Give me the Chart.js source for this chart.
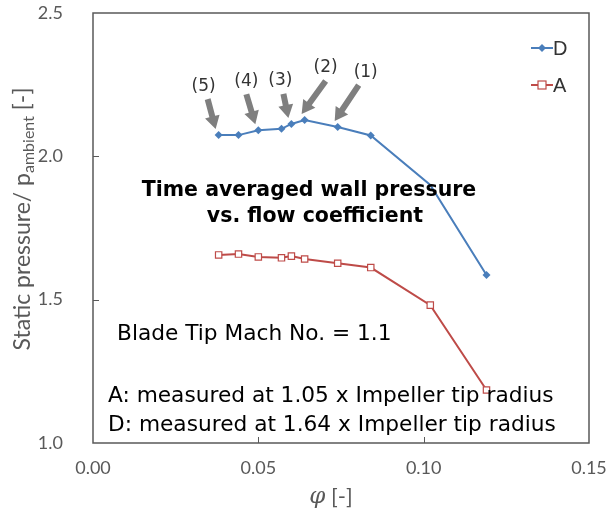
<!DOCTYPE html>
<html>
<head>
<meta charset="utf-8">
<script src="https://cdn.jsdelivr.net/npm/chart.js@4"></script>
<style>
  html,body{margin:0;padding:0;background:#fff;}
  #wrap{width:616px;height:511px;position:relative;}
</style>
</head>
<body>
<div id="wrap"><canvas id="c" width="616" height="511"></canvas></div>
<script>
// flow coefficient phi and static pressure ratio
const phi = [0.038, 0.044, 0.050, 0.057, 0.060, 0.064, 0.074, 0.084, 0.102, 0.119];
const pD  = [2.074, 2.074, 2.091, 2.096, 2.113, 2.127, 2.102, 2.073, 1.900, 1.586];
const pA  = [1.656, 1.659, 1.649, 1.646, 1.652, 1.642, 1.627, 1.612, 1.481, 1.185];
const xTicks = [0, 0.05, 0.10, 0.15];
const yTicks = [1.0, 1.5, 2.0, 2.5];

const BLUE = '#4a7ebb', RED = '#be4b48', AXIS = '#595959';

// operating point arrows: label, index into D, tail offset from the point, label shift
const arrows = [
  {label:'(5)', idx:0, dx:-11, dy:-36, lx:-4},
  {label:'(4)', idx:2, dx:-12, dy:-36, lx:0},
  {label:'(3)', idx:4, dx:-8,  dy:-30, lx:-3},
  {label:'(2)', idx:5, dx:21,  dy:-39, lx:0},
  {label:'(1)', idx:6, dx:21,  dy:-42, lx:7},
];

function drawArrow(ctx, x1, y1, x2, y2){
  const ang = Math.atan2(y2-y1, x2-x1);
  const head = 13, hw = 7.5, sw = 3;
  const len = Math.hypot(x2-x1, y2-y1);
  ctx.save();
  ctx.translate(x1, y1);
  ctx.rotate(ang);
  ctx.fillStyle = '#7f7f7f';
  ctx.beginPath();
  ctx.moveTo(0, -sw);
  ctx.lineTo(len-head, -sw);
  ctx.lineTo(len-head, -hw);
  ctx.lineTo(len, 0);
  ctx.lineTo(len-head, hw);
  ctx.lineTo(len-head, sw);
  ctx.lineTo(0, sw);
  ctx.closePath();
  ctx.fill();
  ctx.restore();
}

const decor = {
  id:'decor',
  afterDatasetsDraw(chart){
    const {ctx, chartArea:a, scales:{x, y}} = chart;
    ctx.save();
    // frame
    ctx.strokeStyle = AXIS; ctx.lineWidth = 1.5;
    ctx.strokeRect(a.left, a.top, a.right-a.left, a.bottom-a.top);
    // inner tick marks
    ctx.lineWidth = 1;
    xTicks.slice(1, -1).forEach(v => {
      const px = Math.round(x.getPixelForValue(v)) + 0.5;
      ctx.beginPath(); ctx.moveTo(px, a.bottom); ctx.lineTo(px, a.bottom-6); ctx.stroke();
    });
    yTicks.slice(1, -1).forEach(v => {
      const py = Math.round(y.getPixelForValue(v)) + 0.5;
      ctx.beginPath(); ctx.moveTo(a.left, py); ctx.lineTo(a.left+6, py); ctx.stroke();
    });

    // arrows + labels
    ctx.font = '17px "DejaVu Sans"';
    ctx.fillStyle = '#333';
    ctx.textAlign = 'center'; ctx.textBaseline = 'middle';
    arrows.forEach(ar => {
      const px = x.getPixelForValue(phi[ar.idx]);
      const py = y.getPixelForValue(pD[ar.idx]);
      drawArrow(ctx, px+ar.dx, py+ar.dy, px-3, py-6);
      ctx.fillText(ar.label, px+ar.dx+ar.lx, py+ar.dy-13);
    });

    // annotation texts
    ctx.fillStyle = '#000';
    ctx.font = 'bold 20.5px "DejaVu Sans"';
    ctx.fillText('Time averaged wall pressure', 309, 191);
    ctx.fillText('vs. flow coefficient', 315, 217);
    ctx.textAlign = 'left';
    ctx.font = '21.7px "DejaVu Sans"';
    ctx.fillText('Blade Tip Mach No. = 1.1', 117, 334);
    ctx.fillText('A: measured at 1.05 x Impeller tip radius', 108, 396);
    ctx.fillText('D: measured at 1.64 x Impeller tip radius', 108, 425);

    // legend
    const lx = a.right - 58;
    [[BLUE, 'D', 'diamond', 48], [RED, 'A', 'square', 85]].forEach(([col, txt, st, ly]) => {
      ctx.strokeStyle = col; ctx.lineWidth = 2;
      ctx.beginPath(); ctx.moveTo(lx, ly); ctx.lineTo(lx+22, ly); ctx.stroke();
      if (st === 'diamond') {
        ctx.fillStyle = col;
        ctx.beginPath(); ctx.moveTo(lx+11, ly-4); ctx.lineTo(lx+15, ly); ctx.lineTo(lx+11, ly+4); ctx.lineTo(lx+7, ly); ctx.closePath(); ctx.fill();
      } else {
        ctx.fillStyle = '#fff'; ctx.lineWidth = 1.2;
        ctx.fillRect(lx+7, ly-4, 8, 8); ctx.strokeRect(lx+7, ly-4, 8, 8);
      }
      ctx.fillStyle = '#333'; ctx.font = '20px "Liberation Sans"';
      ctx.fillText(txt, lx+22, ly+1);
    });

    // axis titles
    ctx.fillStyle = AXIS;
    ctx.save();
    ctx.translate(23, 219);
    ctx.rotate(-Math.PI/2);
    const f1 = '23px Lato', f2 = '16px Lato';
    ctx.font = f1; const t1 = 'Static pressure/ p', t3 = ' [-]';
    const w1 = ctx.measureText(t1).width, w3 = ctx.measureText(t3).width;
    ctx.font = f2; const t2 = 'ambient', w2 = ctx.measureText(t2).width;
    let sx = -(w1+w2+w3)/2;
    ctx.font = f1; ctx.fillText(t1, sx, 0);
    ctx.font = f2; ctx.fillText(t2, sx+w1, 6);
    ctx.font = f1; ctx.fillText(t3, sx+w1+w2, 0);
    ctx.restore();

    ctx.font = 'italic 23px "DejaVu Serif"';
    const wp = ctx.measureText('φ').width;
    ctx.font = '22px Lato';
    const wr = ctx.measureText(' [-]').width;
    let tx = 331 - (wp+wr)/2;
    ctx.font = 'italic 23px "DejaVu Serif"'; ctx.fillText('φ', tx, 497);
    ctx.font = '22px Lato'; ctx.fillText(' [-]', tx+wp, 497);
    ctx.restore();
  }
};

new Chart(document.getElementById('c'), {
  type:'scatter',
  data:{
    datasets:[
      {label:'D', data: phi.map((v,i)=>({x:v, y:pD[i]})), showLine:true,
       borderColor:BLUE, backgroundColor:BLUE, borderWidth:2,
       pointStyle:'rectRot', pointRadius: c => c.dataIndex === 8 ? 0 : 4, pointBorderWidth:0},
      {label:'A', data: phi.map((v,i)=>({x:v, y:pA[i]})), showLine:true,
       borderColor:RED, backgroundColor:'#fff', borderWidth:2,
       pointStyle:'rect', pointRadius:4.5, pointBorderWidth:1.2},
    ]
  },
  options:{
    responsive:false,
    animation:false,
    layout:{padding:{left:0, right:27, top:13, bottom:0}},
    plugins:{legend:{display:false}, tooltip:{enabled:false}},
    scales:{
      x:{type:'linear', min:0, max:0.15,
         afterBuildTicks: s => { s.ticks = xTicks.map(v => ({value:v})); },
         afterFit: s => { s.height = 68; s.paddingLeft = 0; s.paddingRight = 0; },
         grid:{display:false, drawTicks:false}, border:{display:false},
         ticks:{padding:14, color:AXIS, font:{family:'Lato', size:18}, maxRotation:0,
                callback: v => v.toFixed(2)}},
      y:{type:'linear', min:1, max:2.5,
         afterBuildTicks: s => { s.ticks = yTicks.map(v => ({value:v})); },
         afterFit: s => { s.width = 93; s.paddingTop = 0; s.paddingBottom = 0; },
         grid:{display:false, drawTicks:false}, border:{display:false},
         ticks:{padding:30, color:AXIS, font:{family:'Lato', size:18},
                callback: v => v.toFixed(1)}}
    }
  },
  plugins:[decor]
});
</script>
</body>
</html>
